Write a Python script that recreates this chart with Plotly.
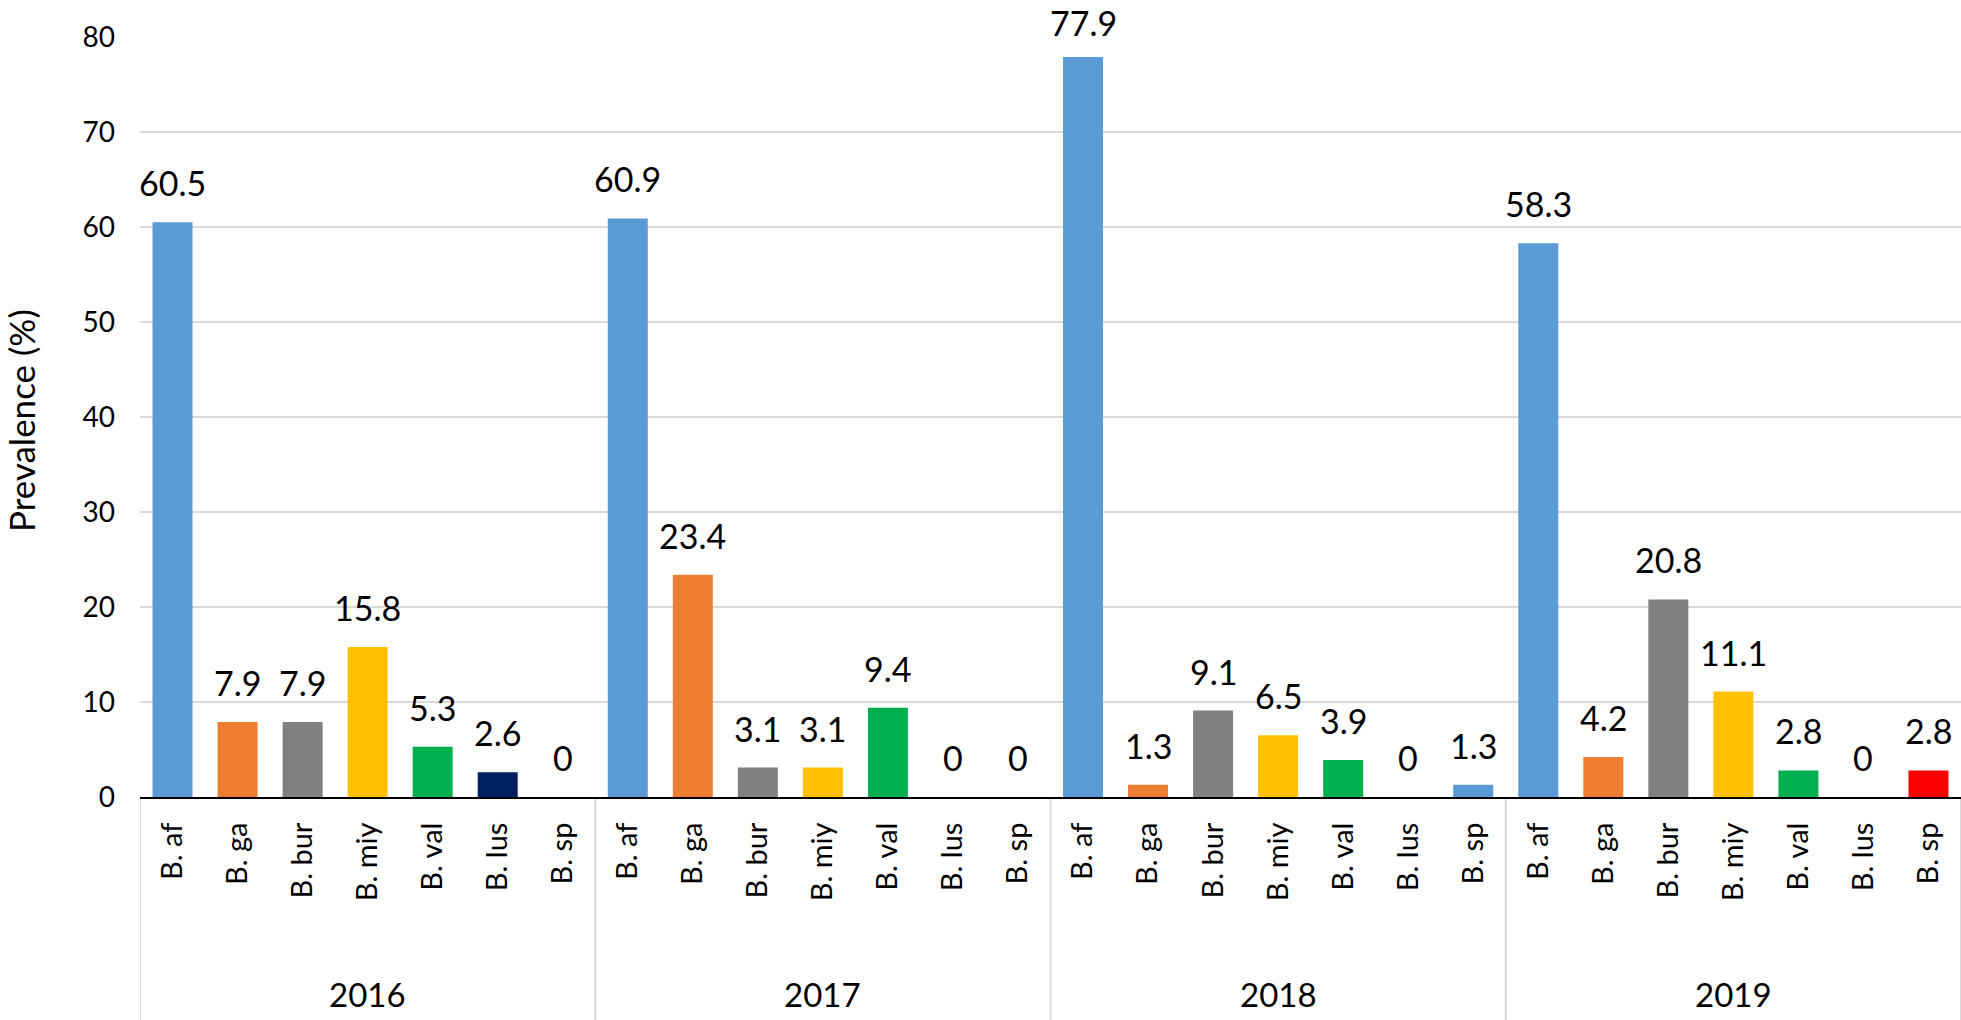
import plotly.graph_objects as go

years = ["2016", "2017", "2018", "2019"]
species = ["B. af", "B. ga", "B. bur", "B. miy", "B. val", "B. lus", "B. sp"]
values_2016 = [60.5, 7.9, 7.9, 15.8, 5.3, 2.6, 0]
values_2017 = [60.9, 23.4, 3.1, 3.1, 9.4, 0, 0]
values_2018 = [77.9, 1.3, 9.1, 6.5, 3.9, 0, 1.3]
values_2019 = [58.3, 4.2, 20.8, 11.1, 2.8, 0, 2.8]
y_ticks = [0, 10, 20, 30, 40, 50, 60, 70, 80]

BLUE, ORANGE, GRAY, YELLOW, GREEN, NAVY, RED = (
    "#5B9BD5", "#ED7D31", "#808080", "#FFC000", "#00B050", "#002060", "#FF0000")
colors_2016 = [BLUE, ORANGE, GRAY, YELLOW, GREEN, NAVY, BLUE]
colors_2017 = [BLUE, ORANGE, GRAY, YELLOW, GREEN, NAVY, BLUE]
colors_2018 = [BLUE, ORANGE, GRAY, YELLOW, GREEN, NAVY, BLUE]
colors_2019 = [BLUE, ORANGE, GRAY, YELLOW, GREEN, NAVY, RED]

all_values = values_2016 + values_2017 + values_2018 + values_2019
all_colors = colors_2016 + colors_2017 + colors_2018 + colors_2019
all_species = species * len(years)
xpos = list(range(len(all_values)))
n = len(species)

FONT = "Lato, Calibri, Carlito, sans-serif"
TOP, BOTTOM = 37, 797
PLOT_W = 1961 - 140
PLOT_H = BOTTOM - TOP
Y_MAX = 80
LABEL_SIZE = 34
LABEL_BOX = 42  # approximate rendered height of a data label box

fig = go.Figure()
fig.add_trace(go.Bar(
    x=xpos, y=all_values, marker=dict(color=all_colors, line=dict(width=0)),
    width=0.615, showlegend=False, hoverinfo="y"))

annotations = []
for xi, v in zip(xpos, all_values):
    bar_top_px = BOTTOM - v / Y_MAX * PLOT_H
    shift = min(18, bar_top_px - LABEL_BOX - 2)  # keep labels inside the page, like Excel
    annotations.append(dict(
        x=xi, y=v, xref="x", yref="y", text=f"{v:g}", showarrow=False,
        yanchor="bottom", yshift=shift, borderpad=0,
        font=dict(family=FONT, size=LABEL_SIZE, color="black")))

for gi, yr in enumerate(years):
    annotations.append(dict(
        x=gi * n + (n - 1) / 2, y=-(994 - BOTTOM) / PLOT_H, xref="x", yref="paper",
        text=yr, showarrow=False, yanchor="middle",
        font=dict(family=FONT, size=33, color="black")))

annotations.append(dict(
    x=-(140 - 21) / PLOT_W, y=(BOTTOM - 421) / PLOT_H, xref="paper", yref="paper",
    text="Prevalence (%)",
    textangle=-90, showarrow=False, xanchor="center", yanchor="middle",
    font=dict(family=FONT, size=35, color="black")))

shapes = []
for gi in range(len(years) + 1):
    shapes.append(dict(
        type="line", xref="x", yref="paper", x0=gi * n - 0.5, x1=gi * n - 0.5,
        y0=0, y1=-0.32, line=dict(color="#d9d9d9", width=2), layer="below"))

fig.update_layout(
    width=1961, height=1020,
    margin=dict(l=140, r=0, t=TOP, b=1020 - BOTTOM),
    plot_bgcolor="white", paper_bgcolor="white",
    font=dict(family=FONT, color="black"),
    annotations=annotations, shapes=shapes,
    xaxis=dict(
        range=[-0.5, len(all_values) - 0.5],
        tickmode="array", tickvals=xpos, ticktext=all_species,
        tickangle=-90, tickfont=dict(family=FONT, size=29, color="black"),
        showgrid=False, showline=True, linecolor="black", linewidth=2,
        ticks="", ticklabelstandoff=12, zeroline=False),
    yaxis=dict(
        range=[0, Y_MAX], tickvals=y_ticks,
        tickfont=dict(family=FONT, size=28, color="black"),
        showgrid=True, gridcolor="#d9d9d9", gridwidth=2,
        zeroline=False, showline=False, ticks="", ticklabelstandoff=24),
)

fig.write_html("out.html", config={"displayModeBar": False},
               post_script="document.body.style.margin='0px';document.body.style.overflow='hidden';")
